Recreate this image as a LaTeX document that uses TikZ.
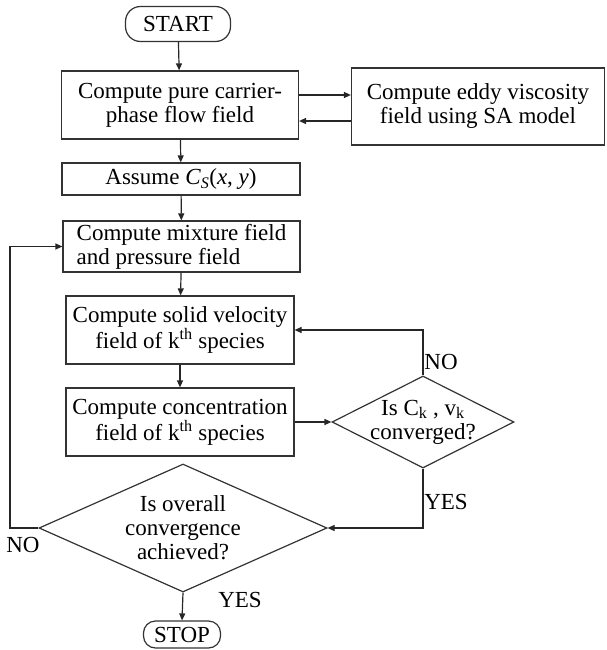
\documentclass[tikz,border=0pt]{standalone}
\usepackage{fontspec}
\setmainfont{Liberation Serif}
\usetikzlibrary{shapes.geometric,arrows.meta}
\begin{document}
\begin{tikzpicture}[x=1pt,y=-1pt,
  every node/.style={font=\fontsize{23}{24}\selectfont, text=black},
  box/.style={draw=black!80, line width=1.2pt, inner sep=0pt, align=center},
  term/.style={draw=black!80, line width=1.2pt, rounded corners=15pt, inner sep=0pt},
  dec/.style={draw=black!80, line width=1.2pt, diamond, aspect=2, inner sep=0pt},
  dectext/.style={inner sep=0pt, align=center},
  arr/.style={draw=black!85, line width=1.2pt, -{Triangle[length=7pt,width=6pt]}},
  lbl/.style={inner sep=0pt}]
\useasboundingbox (0,0) rectangle (606,650);

\node[term, minimum width=105pt, minimum height=35pt] (start) at (178,24) {START};
\node[box, minimum width=237pt, minimum height=68pt] (b1) at (180,105) {Compute pure carrier-\\phase flow field};
\node[box, minimum width=253pt, minimum height=77pt] (eddy) at (478,106.5) {Compute eddy viscosity\\field using SA model};
\node[box, minimum width=238pt, minimum height=32pt] (assume) at (181,179) {Assume \textit{C}\textsubscript{\textit{S}}(\textit{x}, \textit{y})};
\node[box, minimum width=237pt, minimum height=51pt, align=left] (mix) at (181.5,246.5) {Compute mixture field\\and pressure field};
\node[box, minimum width=228pt, minimum height=68pt] (solid) at (180,330) {Compute solid velocity\\field of k\textsuperscript{th} species};
\node[box, minimum width=228pt, minimum height=68pt] (conc) at (180,422) {Compute concentration\\field of k\textsuperscript{th} species};
\node[dec, minimum width=182pt, minimum height=92pt] (d1) at (423,422) {};
\node[dectext] (d1t) at (d1.center) {Is C\textsubscript{k} , v\textsubscript{k}\\converged?};
\node[dec, minimum width=288pt, minimum height=128pt] (d2) at (183,528) {};
\node[dectext] (d2t) at (d2.center) {Is overall\\convergence\\achieved?};
\node[term, minimum width=77pt, minimum height=27pt, rounded corners=12pt] (stop) at (182,634.5) {STOP};

\node[lbl] (no1) at (441,362) {NO};
\node[lbl] (yes1) at (446,502) {YES};
\node[lbl] (no2) at (23,545) {NO};
\node[lbl] (yes2) at (240,600) {YES};

\coordinate (loopb) at (10,528);
\coordinate (loopt) at (10,246.5);

\draw[arr] (start) -- (b1);
\draw[arr] (b1.east |- 0,95) -- (eddy.west |- 0,95);
\draw[arr] (eddy.west |- 0,121) -- (b1.east |- 0,121);
\draw[arr] (b1) -- (assume);
\draw[arr] (assume) -- (mix);
\draw[arr] (mix) -- (solid);
\draw[arr] (solid) -- (conc);
\draw[arr] (conc.east) -- (d1.west);
\draw[arr] (d1.north) -- (d1.north |- solid.east) -- (solid.east);
\draw[arr] (d1.south) -- (d1.south |- d2.east) -- (d2.east);
\draw[arr] (d2.west) -- (loopb) -- (loopt) -- (mix.west);
\draw[arr] (d2.south) -- (stop.north);
\end{tikzpicture}
\end{document}
